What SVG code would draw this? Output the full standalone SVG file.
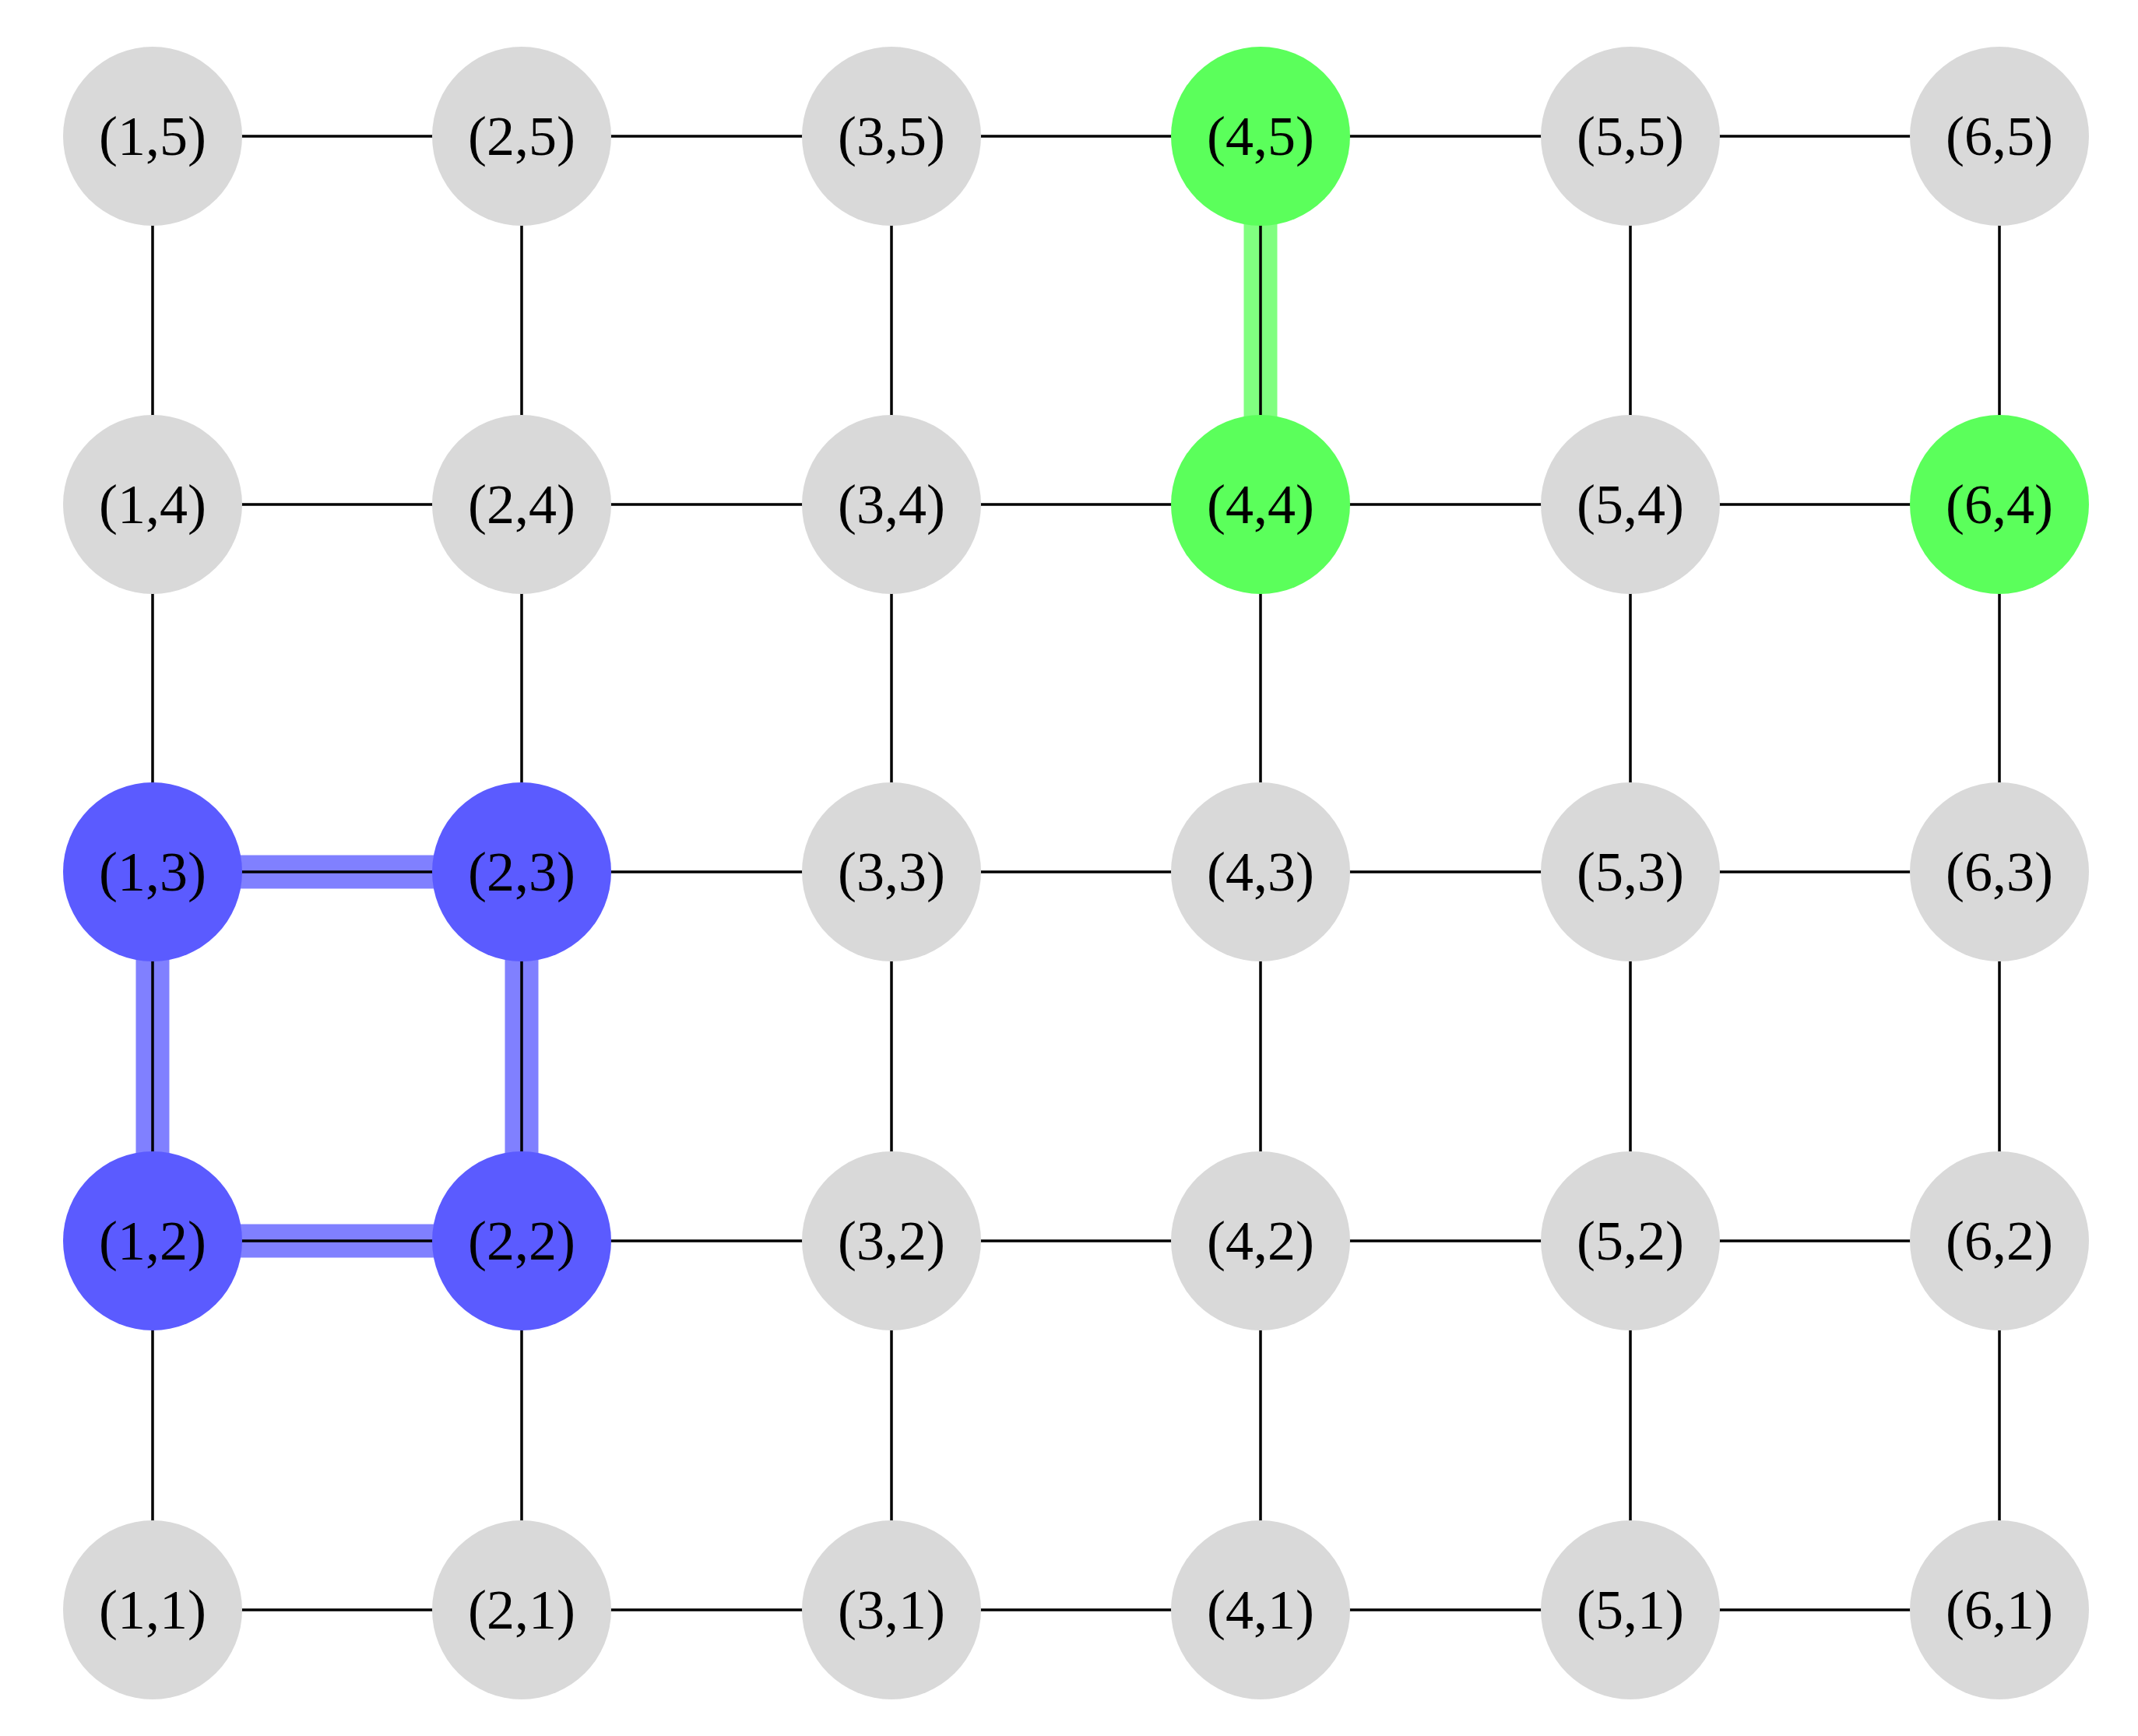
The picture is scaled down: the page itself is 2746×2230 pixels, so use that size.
<svg xmlns="http://www.w3.org/2000/svg" width="2746" height="2230" viewBox="0 0 2746 2230">
<style>
.e{stroke:#000;stroke-width:3.5}
.hb{stroke:#8080ff;stroke-width:43}
.hg{stroke:#80ff80;stroke-width:43}
circle{stroke:none}
.n{fill:#d9d9d9}.b{fill:#5b5bff}.g{fill:#5bff5b}
text{font-family:"Liberation Serif","DejaVu Serif",serif;font-size:72px;text-anchor:middle;dominant-baseline:central;fill:#000}
</style>
<rect width="2746" height="2230" fill="#fff"/>
<g id="connectors">
<line class="hb" x1="196" y1="1120" x2="670" y2="1120"/>
<line class="hb" x1="196" y1="1594" x2="670" y2="1594"/>
<line class="hb" x1="196" y1="1120" x2="196" y2="1594"/>
<line class="hb" x1="670" y1="1120" x2="670" y2="1594"/>
<line class="hg" x1="1619" y1="175" x2="1619" y2="648"/>
<g class="e">
<line x1="196" y1="175" x2="2568" y2="175"/>
<line x1="196" y1="648" x2="2568" y2="648"/>
<line x1="196" y1="1120" x2="2568" y2="1120"/>
<line x1="196" y1="1594" x2="2568" y2="1594"/>
<line x1="196" y1="2068" x2="2568" y2="2068"/>
<line x1="196" y1="175" x2="196" y2="2068"/>
<line x1="670" y1="175" x2="670" y2="2068"/>
<line x1="1145" y1="175" x2="1145" y2="2068"/>
<line x1="1619" y1="175" x2="1619" y2="2068"/>
<line x1="2094" y1="175" x2="2094" y2="2068"/>
<line x1="2568" y1="175" x2="2568" y2="2068"/>
</g>
</g>
<g id="n15"><circle class="n" cx="196" cy="175" r="115"/><text x="196" y="175">(1,5)</text></g>
<g id="n25"><circle class="n" cx="670" cy="175" r="115"/><text x="670" y="175">(2,5)</text></g>
<g id="n35"><circle class="n" cx="1145" cy="175" r="115"/><text x="1145" y="175">(3,5)</text></g>
<g id="n45"><circle class="g" cx="1619" cy="175" r="115"/><text x="1619" y="175">(4,5)</text></g>
<g id="n55"><circle class="n" cx="2094" cy="175" r="115"/><text x="2094" y="175">(5,5)</text></g>
<g id="n65"><circle class="n" cx="2568" cy="175" r="115"/><text x="2568" y="175">(6,5)</text></g>
<g id="n14"><circle class="n" cx="196" cy="648" r="115"/><text x="196" y="648">(1,4)</text></g>
<g id="n24"><circle class="n" cx="670" cy="648" r="115"/><text x="670" y="648">(2,4)</text></g>
<g id="n34"><circle class="n" cx="1145" cy="648" r="115"/><text x="1145" y="648">(3,4)</text></g>
<g id="n44"><circle class="g" cx="1619" cy="648" r="115"/><text x="1619" y="648">(4,4)</text></g>
<g id="n54"><circle class="n" cx="2094" cy="648" r="115"/><text x="2094" y="648">(5,4)</text></g>
<g id="n64"><circle class="g" cx="2568" cy="648" r="115"/><text x="2568" y="648">(6,4)</text></g>
<g id="n13"><circle class="b" cx="196" cy="1120" r="115"/><text x="196" y="1120">(1,3)</text></g>
<g id="n23"><circle class="b" cx="670" cy="1120" r="115"/><text x="670" y="1120">(2,3)</text></g>
<g id="n33"><circle class="n" cx="1145" cy="1120" r="115"/><text x="1145" y="1120">(3,3)</text></g>
<g id="n43"><circle class="n" cx="1619" cy="1120" r="115"/><text x="1619" y="1120">(4,3)</text></g>
<g id="n53"><circle class="n" cx="2094" cy="1120" r="115"/><text x="2094" y="1120">(5,3)</text></g>
<g id="n63"><circle class="n" cx="2568" cy="1120" r="115"/><text x="2568" y="1120">(6,3)</text></g>
<g id="n12"><circle class="b" cx="196" cy="1594" r="115"/><text x="196" y="1594">(1,2)</text></g>
<g id="n22"><circle class="b" cx="670" cy="1594" r="115"/><text x="670" y="1594">(2,2)</text></g>
<g id="n32"><circle class="n" cx="1145" cy="1594" r="115"/><text x="1145" y="1594">(3,2)</text></g>
<g id="n42"><circle class="n" cx="1619" cy="1594" r="115"/><text x="1619" y="1594">(4,2)</text></g>
<g id="n52"><circle class="n" cx="2094" cy="1594" r="115"/><text x="2094" y="1594">(5,2)</text></g>
<g id="n62"><circle class="n" cx="2568" cy="1594" r="115"/><text x="2568" y="1594">(6,2)</text></g>
<g id="n11"><circle class="n" cx="196" cy="2068" r="115"/><text x="196" y="2068">(1,1)</text></g>
<g id="n21"><circle class="n" cx="670" cy="2068" r="115"/><text x="670" y="2068">(2,1)</text></g>
<g id="n31"><circle class="n" cx="1145" cy="2068" r="115"/><text x="1145" y="2068">(3,1)</text></g>
<g id="n41"><circle class="n" cx="1619" cy="2068" r="115"/><text x="1619" y="2068">(4,1)</text></g>
<g id="n51"><circle class="n" cx="2094" cy="2068" r="115"/><text x="2094" y="2068">(5,1)</text></g>
<g id="n61"><circle class="n" cx="2568" cy="2068" r="115"/><text x="2568" y="2068">(6,1)</text></g>
</svg>
